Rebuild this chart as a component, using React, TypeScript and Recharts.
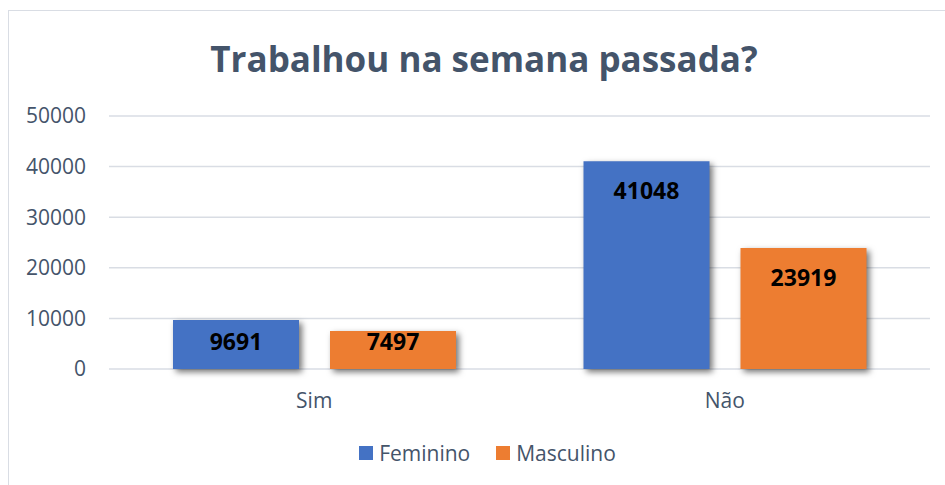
import { BarChart, Bar, XAxis, YAxis, CartesianGrid, Legend, LabelList, Rectangle } from 'recharts';

const categories = ['Sim', 'Não'];
const feminino = [9691, 41048];
const masculino = [7497, 23919];
const yTicks = [0, 10000, 20000, 30000, 40000, 50000];

const data = categories.map((cat, i) => ({ cat, feminino: feminino[i], masculino: masculino[i] }));

const FONT = '"Open Sans", "Noto Sans", sans-serif';
const TEXT = '#44546a';

const ShadowBar = (props: any) => (
    <Rectangle {...props} style={{ filter: 'drop-shadow(3px 3px 3px rgba(0,0,0,0.55))' }} />
);

const ValueLabel = (props: any) => {
    const { x, y, width, height, value } = props;
    const cy = Math.min(y + 29, y + height - 28);
    return (
        <text x={x + width / 2} y={cy} textAnchor="middle" dominantBaseline="central"
            fontFamily={FONT} fontSize={23} fontWeight={700} fill="#000">
            {value}
        </text>
    );
};

const LegendContent = () => (
    <div style={{ display: 'flex', justifyContent: 'center', height: 24, alignItems: 'center', paddingLeft: 36, fontFamily: FONT, fontSize: 21, color: TEXT }}>
        <span style={{ width: 14, height: 14, background: '#4472c4', marginRight: 6 }} />
        <span style={{ marginRight: 26 }}>Feminino</span>
        <span style={{ width: 14, height: 14, background: '#ed7d31', marginRight: 6 }} />
        <span>Masculino</span>
    </div>
);

export default function App() {
    return (
        <div>
            <style>{`body{margin:0;overflow:hidden}`}</style>
            <div style={{ position: 'absolute', left: 8, top: 10, width: 950, height: 480, borderLeft: '1px solid #d9dde4', borderTop: '1px solid #d9dde4', background: '#fff' }}>
                <div style={{ position: 'absolute', left: 0, width: 950, top: 30, textAlign: 'center', fontFamily: FONT, fontWeight: 700, fontSize: 35, lineHeight: '35px', color: TEXT }}>
                    Trabalhou na semana passada?
                </div>
                <BarChart width={937} height={470} data={data}
                    margin={{ top: 105, right: 16, left: 0, bottom: 16 }}
                    barCategoryGap={64} barGap={31}>
                    <CartesianGrid vertical={false} stroke="#d9dde4" strokeWidth={1.5} />
                    <XAxis dataKey="cat" tickLine={false} axisLine={false} tickSize={0} tickMargin={24} height={72}
                        tick={{ fill: TEXT, fontSize: 21, fontFamily: FONT }} />
                    <YAxis domain={[0, 50000]} ticks={yTicks} tickLine={false} axisLine={false} tickSize={0} tickMargin={23} width={100}
                        tick={{ fill: TEXT, fontSize: 21, fontFamily: FONT }} />
                    <Legend verticalAlign="bottom" content={<LegendContent />} />
                    <Bar dataKey="feminino" name="Feminino" fill="#4472c4" shape={ShadowBar} isAnimationActive={false}>
                        <LabelList dataKey="feminino" content={ValueLabel} />
                    </Bar>
                    <Bar dataKey="masculino" name="Masculino" fill="#ed7d31" shape={ShadowBar} isAnimationActive={false}>
                        <LabelList dataKey="masculino" content={ValueLabel} />
                    </Bar>
                </BarChart>
            </div>
        </div>
    );
}
